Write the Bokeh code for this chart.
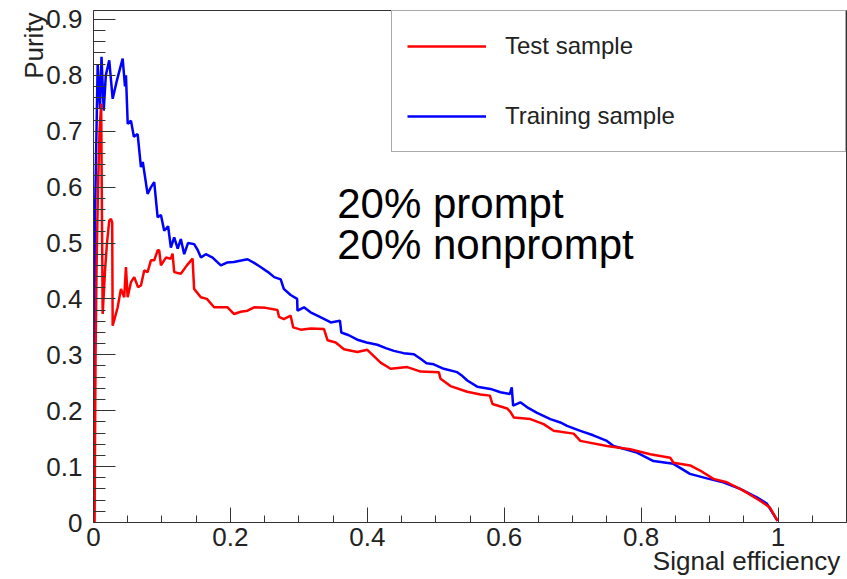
import math
from bokeh.plotting import figure
from bokeh.models import (Range1d, SingleIntervalTicker, FixedTicker, CustomJSTickFormatter,
                          Label, Legend, LegendItem, LinearAxis)
from bokeh.embed import file_html
from bokeh.resources import INLINE

# ---- data ----
train_eff = [0.0007, 0.0022, 0.0061, 0.0095, 0.0117, 0.0149, 0.018, 0.023, 0.028, 0.034,
             0.0426, 0.046, 0.0474, 0.050, 0.0547, 0.059, 0.0645, 0.0693, 0.072, 0.079,
             0.084, 0.0887, 0.0937, 0.0985, 0.1033, 0.109, 0.113, 0.1179, 0.123, 0.1276,
             0.1325, 0.138, 0.147, 0.152, 0.157, 0.164, 0.174, 0.186, 0.195, 0.205,
             0.225, 0.234, 0.244, 0.255, 0.264, 0.2735, 0.278, 0.288, 0.2975, 0.298,
             0.3075, 0.317, 0.327, 0.3417, 0.3465, 0.360, 0.362, 0.373, 0.3854, 0.399,
             0.4146, 0.427, 0.4388, 0.453, 0.468, 0.4778, 0.4865, 0.497, 0.5117, 0.5313,
             0.539, 0.546, 0.5605, 0.5799, 0.5945, 0.6083, 0.611, 0.613, 0.6236, 0.635,
             0.648, 0.6674, 0.682, 0.6918, 0.7112, 0.730, 0.750, 0.7597, 0.777, 0.7939,
             0.818, 0.8473, 0.8713, 0.896, 0.920, 0.9446, 0.969, 0.9835, 0.9993]
train_pur = [0.0, 0.55, 0.82, 0.74, 0.833, 0.737, 0.80, 0.827, 0.758, 0.79,
             0.83, 0.78, 0.80, 0.713, 0.719, 0.69, 0.695, 0.636, 0.645, 0.588,
             0.60, 0.609, 0.546, 0.55, 0.522, 0.53, 0.492, 0.51, 0.49, 0.507,
             0.48, 0.50, 0.498, 0.488, 0.474, 0.48, 0.474, 0.46, 0.465, 0.466,
             0.471, 0.465, 0.457, 0.448, 0.439, 0.435, 0.418, 0.407, 0.40, 0.379,
             0.385, 0.376, 0.37, 0.361, 0.358, 0.361, 0.34, 0.335, 0.327, 0.322,
             0.318, 0.312, 0.307, 0.303, 0.301, 0.293, 0.285, 0.283, 0.275, 0.269,
             0.262, 0.254, 0.243, 0.239, 0.233, 0.23, 0.242, 0.209, 0.215, 0.205,
             0.196, 0.185, 0.179, 0.173, 0.164, 0.156, 0.146, 0.137, 0.131, 0.125,
             0.11, 0.105, 0.087, 0.079, 0.072, 0.06, 0.045, 0.034, 0.003]

test_eff = [0.0015, 0.003, 0.0044, 0.0066, 0.0088, 0.0112, 0.0134, 0.0168, 0.0197, 0.023,
            0.0255, 0.0273, 0.028, 0.0353, 0.0401, 0.0449, 0.0474, 0.0499, 0.0547, 0.0595,
            0.065, 0.0693, 0.0741, 0.079, 0.0839, 0.0887, 0.0937, 0.096, 0.0985, 0.1058,
            0.113, 0.1155, 0.1179, 0.1276, 0.1364, 0.1447, 0.147, 0.1568, 0.1656, 0.1762,
            0.1958, 0.2054, 0.215, 0.225, 0.2346, 0.2516, 0.2687, 0.271, 0.278, 0.288,
            0.2918, 0.3027, 0.3173, 0.3367, 0.342, 0.3538, 0.3659, 0.3854, 0.400, 0.4194,
            0.434, 0.4584, 0.4778, 0.5044, 0.507, 0.5215, 0.5459, 0.5653, 0.579, 0.5828,
            0.6042, 0.609, 0.6139, 0.6382, 0.6576, 0.6722, 0.7014, 0.7112, 0.750, 0.784,
            0.8133, 0.8425, 0.8473, 0.8716, 0.8862, 0.9056, 0.9252, 0.9494, 0.9737, 0.988,
            0.9993]
test_pur = [0.0, 0.30, 0.45, 0.60, 0.70, 0.749, 0.373, 0.45, 0.50, 0.54,
            0.543, 0.537, 0.352, 0.385, 0.418, 0.403, 0.457, 0.403, 0.43, 0.439,
            0.421, 0.424, 0.451, 0.448, 0.469, 0.469, 0.487, 0.487, 0.46, 0.474,
            0.472, 0.481, 0.448, 0.445, 0.46, 0.472, 0.418, 0.403, 0.40, 0.385,
            0.385, 0.373, 0.377, 0.379, 0.385, 0.384, 0.38, 0.368, 0.364, 0.37,
            0.349, 0.345, 0.347, 0.346, 0.326, 0.322, 0.31, 0.305, 0.309, 0.286,
            0.275, 0.278, 0.27, 0.269, 0.257, 0.244, 0.234, 0.229, 0.227, 0.212,
            0.204, 0.198, 0.188, 0.185, 0.176, 0.164, 0.159, 0.146, 0.137, 0.131,
            0.122, 0.116, 0.107, 0.102, 0.093, 0.078, 0.072, 0.057, 0.039, 0.027,
            0.003]

series_names = ["Test sample", "Training sample"]
annotation_lines = ["20% prompt", "20% nonprompt"]
x_title = "Signal efficiency"
y_title = "Purity"

FONT = "Liberation Sans"
AXC = "#333333"

p = figure(width=847, height=579, output_backend="svg", toolbar_location=None,
           x_range=Range1d(0, 1.1), y_range=Range1d(0, 0.916),
           min_border_left=92, min_border_right=1, min_border_top=10, min_border_bottom=57)
p.background_fill_color = "white"
p.border_fill_color = "white"
p.grid.visible = False
p.outline_line_color = AXC
p.outline_line_width = 1

fmt = CustomJSTickFormatter(code="var s = tick.toFixed(1); return s.replace(/\\.0$/, '');")

xa = p.xaxis[0]
xa.ticker = SingleIntervalTicker(interval=0.2, num_minor_ticks=4)
xa.formatter = fmt
xa.major_tick_in = 15
xa.major_tick_out = 0
xa.minor_tick_in = 7
xa.minor_tick_out = 0
xa.major_label_standoff = 5
ya = p.yaxis[0]
ya.ticker = SingleIntervalTicker(interval=0.1, num_minor_ticks=5)
ya.formatter = fmt
ya.major_tick_in = 22
ya.major_tick_out = 0
ya.minor_tick_in = 12
ya.minor_tick_out = 0
ya.major_label_standoff = 11
for ax in (xa, ya):
    ax.axis_line_color = AXC
    ax.major_tick_line_color = AXC
    ax.minor_tick_line_color = AXC
    ax.major_label_text_font = FONT
    ax.major_label_text_font_size = "26px"
    ax.major_label_text_color = "#222222"

# axis titles at the ends of the axes (ROOT style) via label-only axes
xt = LinearAxis(ticker=FixedTicker(ticks=[0.954]),
                formatter=CustomJSTickFormatter(args=dict(t=x_title), code="return t;"),
                axis_line_color=None, major_tick_line_color=None, minor_tick_line_color=None,
                major_label_standoff=-9, major_label_text_font=FONT,
                major_label_text_font_size="26px", major_label_text_color="#222222")
p.add_layout(xt, "below")
yt = LinearAxis(ticker=FixedTicker(ticks=[0.9126]),
                formatter=CustomJSTickFormatter(args=dict(t=y_title), code="return t;"),
                axis_line_color=None, major_tick_line_color=None, minor_tick_line_color=None,
                major_label_standoff=4, major_label_orientation=math.pi / 2,
                major_label_text_font=FONT,
                major_label_text_font_size="26px", major_label_text_color="#222222")
p.add_layout(yt, "left")

r_train = p.line(train_eff, train_pur, line_color="#0000ff", line_width=2.5)
r_test = p.line(test_eff, test_pur, line_color="#ff0000", line_width=2.5)

legend = Legend(items=[LegendItem(label=series_names[0], renderers=[r_test]),
                       LegendItem(label=series_names[1], renderers=[r_train])],
                location="top_right", margin=0, padding=15, spacing=30,
                glyph_width=79, glyph_height=40, label_height=40,
                label_standoff=19, label_width=325,
                label_text_font=FONT, label_text_font_size="24px",
                label_text_color="#222222",
                border_line_color="#555555", border_line_width=1,
                background_fill_color="white", background_fill_alpha=1.0)
p.add_layout(legend)

p.add_layout(Label(x=0.356, y=0.570, text=annotation_lines[0], text_font=FONT,
                   text_font_size="42px", text_color="black", text_baseline="alphabetic"))
p.add_layout(Label(x=0.356, y=0.4965, text=annotation_lines[1], text_font=FONT,
                   text_font_size="42px", text_color="black", text_baseline="alphabetic"))

open("out.html", "w").write(file_html(p, INLINE))
